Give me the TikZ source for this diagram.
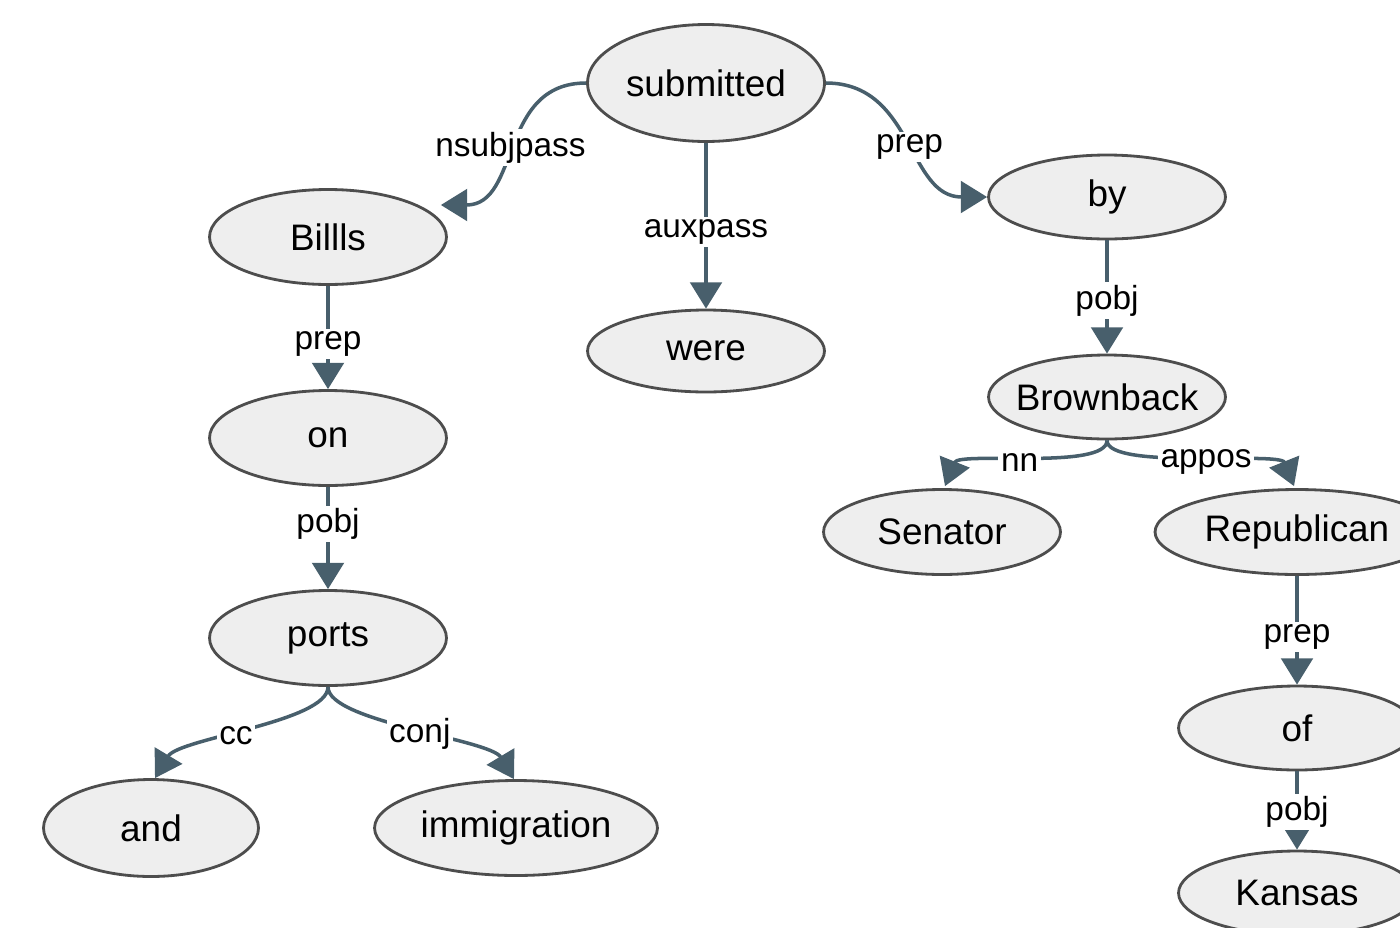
\documentclass[tikz,border=0pt]{standalone}
\usepackage{fontspec}
\setmainfont{Liberation Sans}
\usepackage{tikz}
\usetikzlibrary{shapes.geometric}
\usetikzlibrary{arrows.meta}
\usetikzlibrary{calc}

\definecolor{edgecol}{HTML}{485F6C}
\definecolor{wordfill}{HTML}{EEEEEE}
\definecolor{wordline}{HTML}{4D4D4D}

\begin{document}
\begin{tikzpicture}[x=0.02cm, y=-0.02cm,
  word/.style={ellipse, draw=wordline, fill=wordfill, line width=1.6pt, inner sep=0pt,
    minimum width=4.74cm, minimum height=1.68cm, font=\fontsize{21}{24}\selectfont},
  dep/.style={draw=edgecol, line width=2pt, -{Triangle[length=15pt,width=18pt]}},
  rel/.style={fill=white, inner sep=1.5pt, font=\fontsize{19}{21}\selectfont}]
\useasboundingbox (0,0) rectangle (1400,927);
\clip (0,0) rectangle (1400,927);

\node [word, minimum height=2.34cm] (submitted) at (706,83) {submitted};
\node [word, minimum height=1.9cm] (Billls) at (328,237) {Billls};
\node [word, minimum height=1.64cm] (were) at (706,351) {were};
\node [word] (by) at (1107,197) {by};
\node [word, minimum height=1.9cm] (on) at (328,438) {on};
\node [word, inner xsep=-9pt] (Brownback) at (1107,397) {Brownback};
\node [word, minimum height=1.7cm] (Senator) at (942,532) {Senator};
\node [word, minimum width=5.68cm, minimum height=1.7cm] (Republican) at (1297,532) {Republican};
\node [word, minimum height=1.9cm] (ports) at (328,638) {ports};
\node [word] (of) at (1297,728) {of};
\node [word, minimum width=4.3cm, minimum height=1.94cm] (and) at (151,828) {and};
\node [word, minimum width=5.66cm, minimum height=1.9cm] (immigration) at (516,828) {immigration};
\node [word] (Kansas) at (1297,893) {Kansas};

\draw[dep] (submitted.west) .. controls +(-88,0) and +(80,0) .. node[rel, yshift=-2pt] {nsubjpass} ($(Billls.east)+(-7,-32)$);
\draw[dep] (submitted.south) -- node[rel, pos=0.54] {auxpass} (were.north);
\draw[dep] (submitted.east) .. controls +(88,0) and +(-80,0) .. node[rel, yshift=-4pt] {prep} (by.west);
\draw[dep] (Billls.south) -- node[rel, pos=0.56] {prep} (on.north);
\draw[dep] (on.south) -- node[rel, pos=0.36] {pobj} (ports.north);
\draw[dep] (by.south) -- node[rel, pos=0.53] {pobj} (Brownback.north);
\draw[dep] (Brownback.south) .. controls +(0,30) and +(14,-35) .. node[rel, pos=0.55] {nn} ($(Senator.north)+(3,-2)$);
\draw[dep] (Brownback.south) .. controls +(0,30) and +(-14,-35) .. node[rel, pos=0.54] {appos} ($(Republican.north)+(-3,-2)$);
\draw[dep] (Republican.south) -- node[rel, pos=0.56] {prep} (of.north);
\draw[dep] (of.south) -- node[rel, pos=0.52] {pobj} (Kansas.north);
\draw[dep] (ports.south) .. controls +(0,35) and +(24,-40) .. node[rel, pos=0.56] {cc} ($(and.north)+(4,0)$);
\draw[dep] (ports.south) .. controls +(0,35) and +(-24,-40) .. node[rel, pos=0.53] {conj} ($(immigration.north)+(-2,0)$);
\end{tikzpicture}
\end{document}
